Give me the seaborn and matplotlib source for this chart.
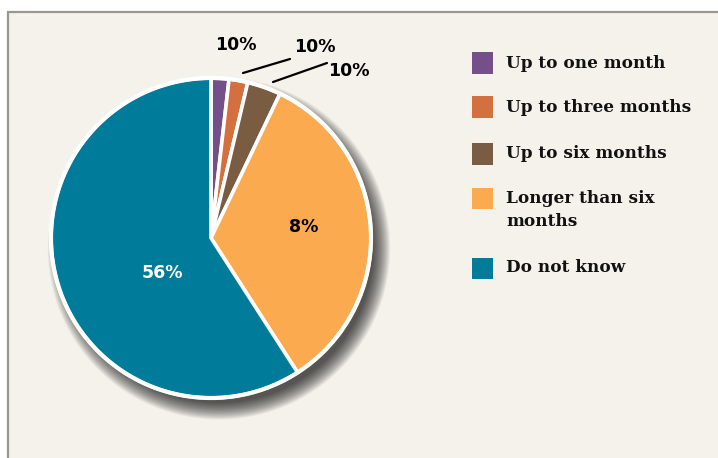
import matplotlib
matplotlib.use("Agg")
import matplotlib.pyplot as plt
import seaborn as sns
from matplotlib.patches import Rectangle, Circle

sns.set_theme(style="white")

# Data (slice sizes; printed labels as shown)
categories = ["Up to one month", "Up to three months", "Up to six months",
              "Longer than six\nmonths", "Do not know"]
shares = [1.8, 1.9, 3.4, 33.8, 59.1]
printed_labels = ["10%", "10%", "10%", "8%", "56%"]
colors = sns.color_palette(["#73508A", "#D4703F", "#7A5C42", "#FCAA4F", "#007B9A"])

BG = "#F5F2EC"
fig = plt.figure(figsize=(7.18, 4.58), dpi=100)
fig.patch.set_facecolor("white")

# panel background with grey border on top and left
W, H = 718, 458
panel = Rectangle((8 / W, -0.01), 1.02, (H - 12) / H + 0.01, transform=fig.transFigure,
                  facecolor=BG, edgecolor="#9A9690", linewidth=1.6, zorder=-10)
fig.patches.append(panel)

# pie axes: centre (211,238) px, radius 160 px
R = 160
half = 1.2
ax = fig.add_axes([(211 - half * R) / W, (H - 238 - half * R) / H,
                   2 * half * R / W, 2 * half * R / H])
ax.set_zorder(2)
ax.patch.set_alpha(0)

# soft shadow towards bottom-right
n = 22
for i in range(n):
    r = 0.96 + 0.005 * (n - i)
    ax.add_patch(Circle((0.05, -0.065), r, facecolor="black", edgecolor="none",
                        alpha=0.045, zorder=1))

wedges, _ = ax.pie(shares, colors=colors, startangle=90, counterclock=False,
                   radius=1.0, center=(0, 0),
                   wedgeprops=dict(edgecolor="white", linewidth=2.6, zorder=3),
                   frame=False)
ax.set_xlim(-half, half)
ax.set_ylim(-half, half)
ax.set_aspect("equal")
ax.axis("off")
ax.add_patch(Circle((0, 0), 1.0, facecolor="none", edgecolor="white",
                    linewidth=3, zorder=4))

font = dict(family="DejaVu Sans", weight="bold", fontsize=12.5)

def px(x, y):
    return ((x - 211) / R, (238 - y) / R)

# small slice labels with leader lines
small_pos = [(236, 45), (315, 47), (349, 71)]
for lab, (x, y) in zip(printed_labels[:3], small_pos):
    ax.text(*px(x, y), lab, ha="center", va="center", color="black", zorder=6,
            clip_on=False, **font)
for (x0, y0, x1, y1) in [(243, 73, 290, 59), (273, 82, 327, 63)]:
    (a0, b0), (a1, b1) = px(x0, y0), px(x1, y1)
    ax.plot([a0, a1], [b0, b1], color="black", linewidth=1.6, zorder=6, clip_on=False)

ax.text(*px(304, 227), printed_labels[3], ha="center", va="center", color="black",
        zorder=6, **font)
ax.text(*px(162, 273), printed_labels[4], ha="center", va="center", color="white",
        zorder=6, **font)

# legend
legend_y = [63, 107, 154, 198, 268]
for cat, col, y in zip(categories, colors, legend_y):
    fig.patches.append(Rectangle((472 / W, (H - y - 10.5) / H), 21 / W, 21 / H,
                                 transform=fig.transFigure, facecolor=col,
                                 edgecolor="none", zorder=5))
    fig.text(506 / W, (H - y) / H if "\n" not in cat else (H - y - 12) / H, cat,
             ha="left", va="center", family="DejaVu Serif", weight="bold",
             fontsize=12.2, color="#111111", linespacing=1.45)

fig.savefig("out.png", dpi=100, facecolor=fig.get_facecolor())
